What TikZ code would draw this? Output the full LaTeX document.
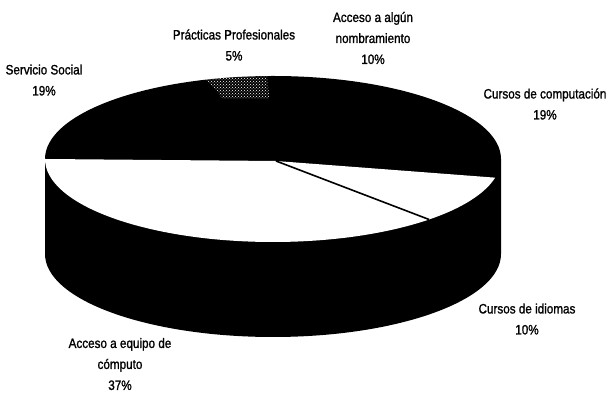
\documentclass[tikz,border=0pt]{standalone}
\usepackage{fontspec}
\setmainfont{Liberation Sans}[FakeStretch=0.86,FakeBold=1.2]
\usetikzlibrary{patterns}
\begin{document}
\begin{tikzpicture}[x=1pt,y=1pt,
  lbl/.style={align=center,font=\fontsize{13.6}{21}\selectfont,inner sep=0pt}]
\useasboundingbox (0,0) rectangle (608,395);
\def\cx{273}\def\cy{236}\def\rx{228}\def\ry{83}\def\dp{95}
\coordinate (C) at (\cx,\cy);
\coordinate (A) at (276,234);
% cylinder body (all black)
\fill[black] ({\cx-\rx},\cy) -- ({\cx-\rx},{\cy-\dp})
  arc[start angle=180,end angle=360,x radius=\rx,y radius=\ry]
  -- ({\cx+\rx},\cy)
  arc[start angle=0,end angle=180,x radius=\rx,y radius=\ry] -- cycle;
% white slices: Acceso a equipo de computo and Cursos de idiomas
\fill[white] (A) -- ({\cx+\rx*cos(180)},{\cy+\ry*sin(180)})
  arc[start angle=180,end angle=347,x radius=\rx,y radius=\ry] -- cycle;
% Practicas Profesionales speckles near the rim
\begin{scope}
  \clip (A) -- ({\cx+\rx*cos(91.5)},{\cy+\ry*sin(91.5)})
    arc[start angle=91.5,end angle=107,x radius=\rx,y radius=\ry] -- cycle;
  \fill[pattern=crosshatch dots,pattern color=white] (150,296) rectangle (300,330);
\end{scope}
% separator between the two white slices
\coordinate (S) at ({\cx+\rx*cos(313.2)},{\cy+\ry*sin(313.2)});
\draw[line width=1.6pt] (A) -- (S);
% labels
\node[lbl] (ss) at (44,315) {Servicio Social\\19\%};
\node[lbl] (pp) at (234,350) {Prácticas Profesionales\\5\%};
\node[lbl] (an) at (373,357) {Acceso a algún\\nombramiento\\10\%};
\node[lbl] (cc) at (545,291) {Cursos de computación\\19\%};
\node[lbl] (ci) at (527,76) {Cursos de idiomas\\10\%};
\node[lbl] (ae) at (120,31) {Acceso a equipo de\\cómputo\\37\%};
\end{tikzpicture}
\end{document}
